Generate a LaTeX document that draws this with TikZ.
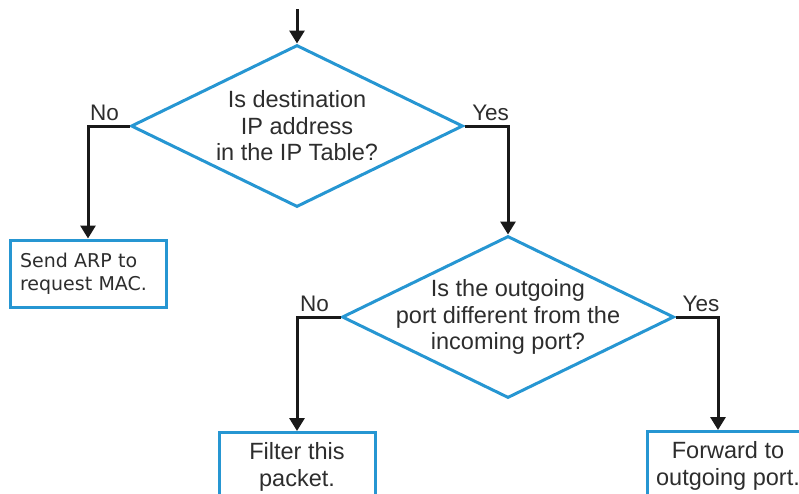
\documentclass[tikz,border=0pt]{standalone}
\usepackage{fontspec}
\setmainfont{Liberation Sans}
\newfontfamily\notefont{DejaVu Sans}
\usetikzlibrary{shapes.geometric,arrows.meta}
\definecolor{flowblue}{RGB}{38,150,210}
\definecolor{inkgray}{RGB}{45,45,45}

\begin{document}
\begin{tikzpicture}[x=1pt,y=-1pt,>={Triangle[width=15pt,length=13pt]},
  line width=3pt,
  decision/.style={draw=flowblue,diamond,minimum width=332pt,minimum height=162pt,inner sep=0pt},
  qtext/.style={align=center,text=inkgray,font=\fontsize{23.5}{26.5}\selectfont},
  box/.style={draw=flowblue,rectangle,text=inkgray},
  flow/.style={->,draw=black!90},
  answer/.style={above,inner sep=4pt,text=inkgray,font=\fontsize{22.5}{24}\selectfont}]
\useasboundingbox (0,0) rectangle (799,493);
\coordinate (start) at (297,9);
% decisions
\node[decision] (ipq) at (297,126) {};
\node[qtext] (ipqtext) at (ipq) {Is destination\\IP address\\in the IP Table?};
\node[decision] (portq) at (508,317) {};
\node[qtext] (portqtext) at (portq) {Is the outgoing\\port different from the\\incoming port?};
% outcomes
\node[box,inner xsep=10pt,inner ysep=0pt,text width=136pt,minimum height=67pt,align=left,
  font=\notefont\fontsize{19}{23}\selectfont] (arp) at (88,273.5) {Send ARP to\\request MAC.};
\node[box,qtext,anchor=north,minimum width=156pt,inner xsep=0pt,inner ysep=10pt] (filter) at (297,431) {Filter this\\packet.};
\node[box,qtext,anchor=north,minimum width=162pt,inner xsep=0pt,inner ysep=10pt] (fwd) at (728,430) {Forward to\\outgoing port.};
% connectors
\draw[flow] (start) -- (ipq.north);
\draw[flow] (ipq.west) -| node[answer,pos=0.3]{No} (arp.north);
\draw[flow] (ipq.east) -| node[answer,pos=0.3]{Yes} (portq.north);
\draw[flow] (portq.west) -| node[answer,pos=0.3]{No} (filter.north);
\draw[flow] (portq.east) -| node[answer,pos=0.3]{Yes} ([xshift=-10pt]fwd.north);
\end{tikzpicture}
\end{document}
